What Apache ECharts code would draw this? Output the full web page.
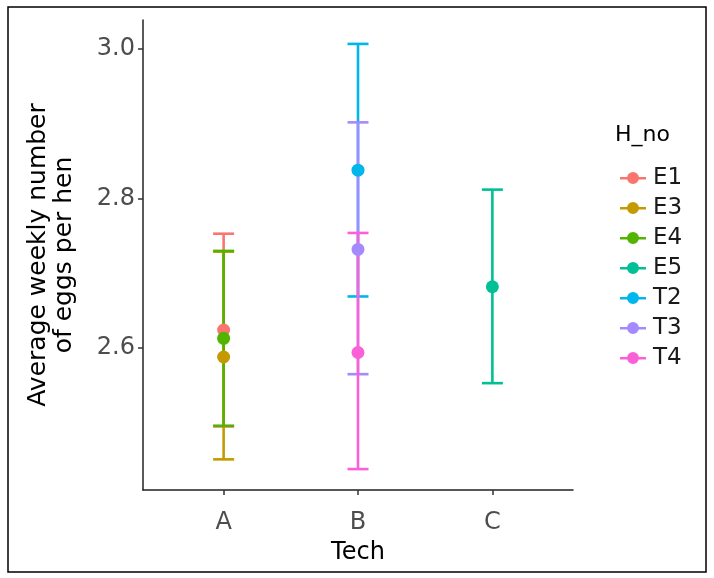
<!DOCTYPE html>
<html>
<head>
<meta charset="utf-8">
<script src="https://cdn.jsdelivr.net/npm/echarts@6/dist/echarts.min.js"></script>
<style>
  html, body { margin: 0; padding: 0; background: #fff; }
  #main { width: 714px; height: 578px; }
</style>
</head>
<body>
<div id="main"></div>
<script>
// categories on the x axis
var techs = ['A', 'B', 'C'];
// hens (legend groups), in ggplot order
var groups = ['E1', 'E3', 'E4', 'E5', 'T2', 'T3', 'T4'];
var groupTech = ['A', 'A', 'A', 'C', 'B', 'B', 'B'];
var means  = [2.624, 2.588, 2.613, 2.682, 2.838, 2.732, 2.594];
var lowers = [2.495, 2.451, 2.496, 2.553, 2.669, 2.565, 2.438];
var uppers = [2.753, 2.729, 2.730, 2.812, 3.007, 2.902, 2.754];
var yTicks = [2.6, 2.8, 3.0];
var colors = ['#F8766D', '#C49A00', '#53B400', '#00C094', '#00B6EB', '#A58AFF', '#FB61D7'];

var font = 'DejaVu Sans';
var keyIcon = 'path://M0,9 L26,9 L26,11.5 L0,11.5 Z M13,4 A6,6 0 1 1 12.99,4 Z';

var myChart = echarts.init(document.getElementById('main'));

function errorBar(color) {
  return function (params, api) {
    var x = api.value(0);
    var lo = api.coord([x, api.value(1)]);
    var hi = api.coord([x, api.value(2)]);
    var hw = 10.5;
    var style = { stroke: color, lineWidth: 2.6, fill: null };
    return {
      type: 'group',
      children: [
        { type: 'line', shape: { x1: lo[0], y1: lo[1], x2: hi[0], y2: hi[1] }, style: style },
        { type: 'line', shape: { x1: lo[0] - hw, y1: lo[1], x2: lo[0] + hw, y2: lo[1] }, style: style },
        { type: 'line', shape: { x1: hi[0] - hw, y1: hi[1], x2: hi[0] + hw, y2: hi[1] }, style: style }
      ]
    };
  };
}

var series = [];
groups.forEach(function (g, i) {
  var xpos = techs.indexOf(groupTech[i]) + 1;
  series.push({
    name: g,
    type: 'custom',
    color: colors[i],
    renderItem: errorBar(colors[i]),
    encode: { x: 0, y: [1, 2] },
    data: [[xpos, lowers[i], uppers[i]]],
    z: 2
  });
});
groups.forEach(function (g, i) {
  var xpos = techs.indexOf(groupTech[i]) + 1;
  series.push({
    name: g,
    type: 'scatter',
    color: colors[i],
    symbolSize: 13,
    itemStyle: { color: colors[i], opacity: 1 },
    data: [[xpos, means[i]]],
    z: 3
  });
});

myChart.setOption({
  animation: false,
  backgroundColor: '#fff',
  textStyle: { fontFamily: font },
  title: {
    text: 'H_no',
    left: 610,
    top: 119,
    textStyle: { fontFamily: font, fontSize: 22, fontWeight: 'normal', color: '#000' }
  },
  legend: {
    orient: 'vertical',
    left: 615,
    top: 161,
    itemWidth: 26,
    itemHeight: 12,
    itemGap: 6,
    data: groups.map(function (g, i) {
      return { name: g, icon: keyIcon, itemStyle: { color: colors[i] } };
    }),
    textStyle: { fontFamily: font, fontSize: 23, lineHeight: 24, color: '#1a1a1a', padding: [0, 0, 0, 2] }
  },
  graphic: [{
    type: 'rect',
    shape: { x: 8, y: 7, width: 698, height: 565 },
    style: { fill: null, stroke: '#000', lineWidth: 1.5 },
    silent: true
  }],
  grid: { left: 143, right: 141, top: 20, bottom: 88 },
  xAxis: {
    type: 'value',
    min: 0.4,
    max: 3.6,
    name: 'Tech',
    nameLocation: 'middle',
    nameGap: 51,
    nameTextStyle: { fontFamily: font, fontSize: 24, color: '#000' },
    axisLine: { show: true, lineStyle: { color: '#222', width: 1.5 } },
    axisTick: { show: true, length: 5, customValues: [1, 2, 3], lineStyle: { color: '#333', width: 1.5 } },
    axisLabel: {
      customValues: [1, 2, 3],
      margin: 21,
      fontSize: 24,
      color: '#4d4d4d',
      formatter: function (v) { return techs[Math.round(v) - 1]; }
    },
    splitLine: { show: false }
  },
  yAxis: {
    type: 'value',
    min: 2.41,
    max: 3.039,
    name: 'Average weekly number\nof eggs per hen',
    nameLocation: 'middle',
    nameGap: 66,
    nameRotate: 90,
    nameTextStyle: { fontFamily: font, fontSize: 25, lineHeight: 26, color: '#000', align: 'center' },
    axisLine: { show: true, lineStyle: { color: '#222', width: 1.5 } },
    axisTick: { show: true, length: 5, customValues: yTicks, lineStyle: { color: '#333', width: 1.5 } },
    axisLabel: {
      customValues: yTicks,
      margin: 8,
      fontSize: 24,
      color: '#4d4d4d',
      formatter: function (v) { return v.toFixed(1); }
    },
    splitLine: { show: false }
  },
  series: series
});
</script>
</body>
</html>
